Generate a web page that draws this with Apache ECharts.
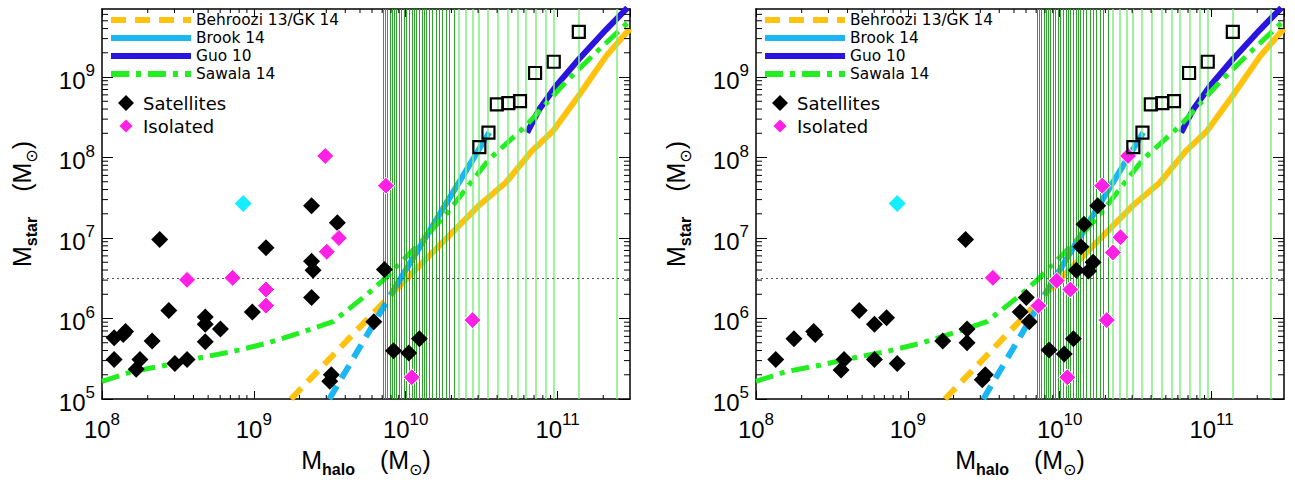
<!DOCTYPE html>
<html>
<head>
<meta charset="utf-8">
<script src="https://cdn.jsdelivr.net/npm/echarts@6/dist/echarts.min.js"></script>
<style>
  html, body { margin: 0; padding: 0; background: #fff; }
  #chart { width: 1295px; height: 482px; }
</style>
</head>
<body>
<div id="chart"></div>
<script>
// all points are [log10 M_halo, log10 M_star]
var behrooziDash = [[9.245, 5.0], [9.90, 6.29]];
var behrooziSolid = [[9.90, 6.29], [10.48, 7.40], [10.66, 7.69], [10.83, 8.08], [10.97, 8.33], [11.14, 8.77], [11.32, 9.26], [11.476, 9.60]];
var brookDash = [[9.497, 5.0], [9.90, 6.29]];
var brookSolid = [[9.90, 6.29], [10.55, 8.31]];
var guo = [[10.80, 8.31], [10.88, 8.60], [10.99, 8.89], [11.14, 9.22], [11.32, 9.59], [11.46, 9.86]];
var sawala = [[8.0, 5.22], [8.20, 5.34], [8.42, 5.42], [8.64, 5.51], [8.86, 5.59], [9.08, 5.69], [9.30, 5.82], [9.52, 5.96],
  [9.74, 6.29], [9.85, 6.475], [10.09, 6.93], [10.26, 7.28], [10.55, 7.98], [10.79, 8.39], [11.05, 8.93], [11.25, 9.30], [11.476, 9.70]];

var satLeft = [[8.08, 5.76], [8.08, 5.49], [8.155, 5.84], [8.14, 5.80], [8.25, 5.49], [8.225, 5.37], [8.33, 5.72], [8.38, 6.98],
  [8.44, 6.10], [8.48, 5.44], [8.56, 5.49], [8.68, 6.02], [8.68, 5.93], [8.68, 5.71], [8.78, 5.87], [8.99, 6.08], [9.08, 6.88],
  [9.38, 7.40], [9.38, 6.71], [9.39, 6.60], [9.38, 6.26], [9.55, 7.19], [9.50, 5.22], [9.51, 5.30], [9.79, 5.96], [9.86, 6.61],
  [9.92, 5.60], [10.02, 5.57], [10.09, 5.75]];
var satRight = [[8.13, 5.49], [8.25, 5.75], [8.38, 5.84], [8.39, 5.80], [8.56, 5.36], [8.58, 5.49], [8.68, 6.10], [8.78, 5.93],
  [8.78, 5.49], [8.86, 6.01], [8.93, 5.44], [9.23, 5.72], [9.39, 5.87], [9.39, 5.70], [9.38, 6.98], [9.49, 5.24], [9.51, 5.30],
  [9.78, 6.26], [9.74, 6.08], [9.80, 5.96], [10.25, 7.40], [10.16, 7.17], [10.14, 6.89], [10.11, 6.60], [10.22, 6.70],
  [10.19, 6.59], [9.93, 5.61], [10.03, 5.56], [10.09, 5.75]];
var isoLeft = [[8.56, 6.48], [8.86, 6.505], [9.08, 6.36], [9.08, 6.16], [9.48, 6.83], [9.56, 7.00], [9.87, 7.65], [9.47, 8.02],
  [10.44, 5.98], [10.04, 5.27]];
var isoRight = [[9.56, 6.505], [9.86, 6.16], [10.45, 8.02], [10.28, 7.65], [10.40, 7.01], [10.35, 6.82], [9.98, 6.47],
  [10.07, 6.36], [10.31, 5.98], [10.05, 5.27]];
var cyanPoint = [[8.93, 7.43]];
var squares = [[10.485, 8.13], [10.545, 8.31], [10.60, 8.66], [10.676, 8.675], [10.753, 8.70], [10.852, 9.05], [10.975, 9.19], [11.14, 9.56]];

// halo masses of the vertical green lines
var darkLines = [7.11e9, 7.33e9, 7.59e9, 7.87e9, 8.11e9, 8.39e9, 8.69e9, 9.06e9, 9.38e9, 9.77e9, 1.01e10, 1.05e10, 1.10e10,
  1.14e10, 1.18e10, 1.23e10, 1.28e10, 1.32e10, 1.37e10, 1.44e10, 1.50e10, 1.58e10, 1.66e10, 1.75e10, 1.84e10, 1.93e10, 2.08e10];
var lightLines = [2.25e10, 2.49e10, 2.75e10, 3.05e10, 3.45e10, 4.02e10, 4.72e10, 5.45e10, 6.18e10, 7.19e10, 8.36e10, 9.48e10,
  1.38e11, 2.47e11];
var dottedLevel = 3.2e6;

var X_MIN = 1e8, X_MAX = 3e11, Y_MIN = 1e5, Y_MAX = 7e9;
var xDecades = [8, 9, 10, 11];
var yDecades = [5, 6, 7, 8, 9];
var minorSteps = [2, 3, 4, 5, 6, 7, 8, 9];

var FONT = 'Liberation Sans';
var LFONT = 'DejaVu Sans';

function toMass(pts) {
  return pts.map(function (p) { return [Math.pow(10, p[0]), Math.pow(10, p[1])]; });
}
function minorValues(decades, max) {
  var out = [];
  decades.forEach(function (d) {
    minorSteps.forEach(function (m) {
      var v = m * Math.pow(10, d);
      if (v < max) out.push(v);
    });
  });
  return out;
}
var xMinor = minorValues(xDecades, X_MAX);
var yMinor = minorValues(yDecades, Y_MAX);

function powLabel(v) {
  var e = Math.log10(v), k = Math.round(e);
  if (Math.abs(e - k) > 1e-6) return '';
  return '{n|10}{e|' + k + '}';
}
var labelRich = {
  n: { fontSize: 24, fontFamily: FONT, color: '#000', lineHeight: 30, verticalAlign: 'bottom' },
  e: { fontSize: 17, fontFamily: FONT, color: '#000', lineHeight: 19, verticalAlign: 'top' }
};
var nameRich = {
  m: { fontSize: 25, fontFamily: FONT, color: '#000', lineHeight: 30, verticalAlign: 'top' },
  s: { fontSize: 16, fontFamily: FONT, fontWeight: 'bold', color: '#000', lineHeight: 18, verticalAlign: 'bottom' },
  o: { fontSize: 16, fontFamily: LFONT, color: '#000', lineHeight: 18, verticalAlign: 'bottom' },
  g: { width: 25 }
};

var grids = [
  { left: 102, top: 9, width: 528, height: 391 },
  { left: 756, top: 9, width: 528, height: 391 }
];

var xAxes = [], yAxes = [];
grids.forEach(function (g, i) {
  var line = { show: true, lineStyle: { color: '#000', width: 1.5 } };
  xAxes.push({
    type: 'log', logBase: 10, gridIndex: i, min: X_MIN, max: X_MAX, position: 'bottom',
    axisLine: line, splitLine: { show: false },
    axisTick: { inside: true, length: 8, lineStyle: { color: '#000', width: 1 } },
    axisLabel: { formatter: powLabel, rich: labelRich, margin: 12, showMaxLabel: false },
    name: '{m|M}{s|halo}{g|}{m|(M}{o|\u2299}{m|)}', nameLocation: 'middle', nameGap: 48,
    nameTextStyle: { rich: nameRich }
  });
  xAxes.push({
    type: 'log', logBase: 10, gridIndex: i, min: X_MIN, max: X_MAX, position: 'top',
    axisLine: line, splitLine: { show: false }, axisLabel: { show: false },
    axisTick: { inside: true, length: 8, lineStyle: { color: '#000', width: 1 } }
  });
  yAxes.push({
    type: 'log', logBase: 10, gridIndex: i, min: Y_MIN, max: Y_MAX, position: 'left',
    axisLine: line, splitLine: { show: false },
    axisTick: { inside: true, length: 11, lineStyle: { color: '#000', width: 1 } },
    axisLabel: { formatter: powLabel, rich: labelRich, margin: 7, showMaxLabel: false },
    name: '{m|M}{s|star}{g|}{m|(M}{o|\u2299}{m|)}', nameLocation: 'middle', nameGap: 63,
    nameTextStyle: { rich: nameRich }
  });
  yAxes.push({
    type: 'log', logBase: 10, gridIndex: i, min: Y_MIN, max: Y_MAX, position: 'right',
    axisLine: line, splitLine: { show: false }, axisLabel: { show: false },
    axisTick: { inside: true, length: 11, lineStyle: { color: '#000', width: 1 } }
  });
});

function minorTicks(i, dir) {
  var data = dir === 'x'
    ? xMinor.map(function (v) { return [v, Y_MIN]; })
    : yMinor.map(function (v) { return [X_MIN, v]; });
  return {
    type: 'custom', xAxisIndex: 2 * i, yAxisIndex: 2 * i, silent: true, z: 6, clip: false,
    data: data, encode: { x: 0, y: 1 },
    renderItem: function (params, api) {
      var cs = params.coordSys;
      var p = api.coord([api.value(0), api.value(1)]);
      var st = { stroke: '#000', lineWidth: 1 };
      if (dir === 'x') {
        return { type: 'group', children: [
          { type: 'line', shape: { x1: p[0], y1: cs.y + cs.height, x2: p[0], y2: cs.y + cs.height - 4 }, style: st },
          { type: 'line', shape: { x1: p[0], y1: cs.y, x2: p[0], y2: cs.y + 4 }, style: st }
        ] };
      }
      return { type: 'group', children: [
        { type: 'line', shape: { x1: cs.x, y1: p[1], x2: cs.x + 6, y2: p[1] }, style: st },
        { type: 'line', shape: { x1: cs.x + cs.width, y1: p[1], x2: cs.x + cs.width - 6, y2: p[1] }, style: st }
      ] };
    }
  };
}

function curve(i, name, pts, color, width, type, z) {
  return {
    name: name, type: 'line', xAxisIndex: 2 * i, yAxisIndex: 2 * i, data: toMass(pts),
    symbol: 'none', showSymbol: false, z: z || 3,
    lineStyle: { color: color, width: width, type: type, cap: 'butt' },
    itemStyle: { color: color }
  };
}

function vlines(i, values, color, width) {
  return {
    type: 'line', xAxisIndex: 2 * i, yAxisIndex: 2 * i, data: [], z: 1, silent: true,
    markLine: {
      silent: true, symbol: ['none', 'none'], label: { show: false }, animation: false,
      lineStyle: { color: color, width: width, type: 'solid' },
      data: values.map(function (v) { return { xAxis: v }; })
    }
  };
}

function panel(i, sats, isos) {
  return [
    vlines(i, darkLines, '#2ea42e', 1),
    vlines(i, lightLines, '#80ee80', 1.5),
    {
      type: 'line', xAxisIndex: 2 * i, yAxisIndex: 2 * i, data: [], z: 1, silent: true,
      markLine: {
        silent: true, symbol: ['none', 'none'], label: { show: false }, animation: false,
        lineStyle: { color: '#555', width: 1, type: [2, 3] },
        data: [{ yAxis: dottedLevel }]
      }
    },
    curve(i, 'Behroozi 13/GK 14', behrooziDash, '#ffc20e', 6, [15, 9]),
    curve(i, 'Behroozi 13/GK 14', behrooziSolid, '#ffc20e', 6, 'solid'),
    curve(i, 'Brook 14', brookSolid, '#1cb6f2', 6, 'solid'),
    curve(i, 'Brook 14', brookDash, '#1cb6f2', 6, [15, 9]),
    curve(i, 'Guo 10', guo, '#2a14e0', 6, 'solid'),
    curve(i, 'Sawala 14', sawala, '#22ee22', 5, [18, 7, 5, 7], 4),
    {
      name: 'Satellites', type: 'scatter', xAxisIndex: 2 * i, yAxisIndex: 2 * i, data: toMass(sats),
      symbol: 'diamond', symbolSize: 17, z: 5, itemStyle: { color: '#000', opacity: 1 }
    },
    {
      name: 'Isolated', type: 'scatter', xAxisIndex: 2 * i, yAxisIndex: 2 * i, data: toMass(isos),
      symbol: 'diamond', symbolSize: 17, z: 5, itemStyle: { color: '#ff20e6', borderColor: '#fff', borderWidth: 1, opacity: 1 }
    },
    {
      name: 'other', type: 'scatter', xAxisIndex: 2 * i, yAxisIndex: 2 * i, data: toMass(cyanPoint),
      symbol: 'diamond', symbolSize: 17, z: 5, itemStyle: { color: '#14eeff', opacity: 1 }
    },
    {
      name: 'observed', type: 'scatter', xAxisIndex: 2 * i, yAxisIndex: 2 * i, data: toMass(squares),
      symbol: 'rect', symbolSize: 12, z: 6,
      itemStyle: { color: 'rgba(0,0,0,0)', borderColor: '#000', borderWidth: 2.2, opacity: 1 }
    },
    minorTicks(i, 'x'),
    minorTicks(i, 'y')
  ];
}

function legends(i) {
  var x0 = grids[i].left;
  return [
    {
      orient: 'vertical', left: x0 + 6, top: 11, padding: 0, itemGap: 0, itemWidth: 80, itemHeight: 10,
      selectedMode: false, data: ['Behroozi 13/GK 14', 'Brook 14', 'Guo 10', 'Sawala 14'],
      lineStyle: { width: 6 },
      itemStyle: { opacity: 0 },
      textStyle: { fontFamily: LFONT, fontSize: 15.4, color: '#000', lineHeight: 18 }
    },
    {
      orient: 'vertical', left: x0 + 15, top: 91.5, padding: 0, itemGap: 0, itemWidth: 16, itemHeight: 16,
      selectedMode: false, data: ['Satellites', 'Isolated'],
      textStyle: { fontFamily: LFONT, fontSize: 18, color: '#000', lineHeight: 23, padding: [0, 0, 0, 4] }
    }
  ];
}

var chart = echarts.init(document.getElementById('chart'), null, { renderer: 'svg' });
chart.setOption({
  animation: false,
  backgroundColor: '#fff',
  grid: grids,
  xAxis: xAxes,
  yAxis: yAxes,
  legend: legends(0).concat(legends(1)),
  series: panel(0, satLeft, isoLeft).concat(panel(1, satRight, isoRight))
});
</script>
</body>
</html>
